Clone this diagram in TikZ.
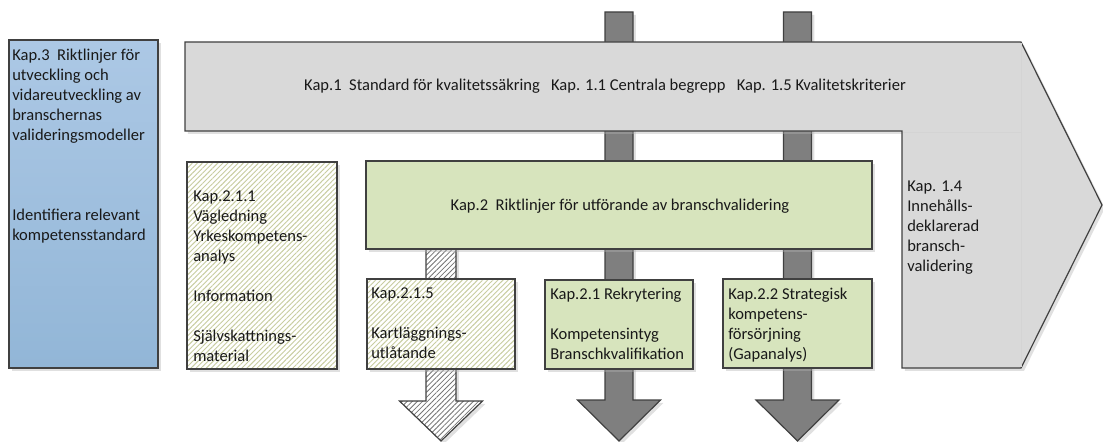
\documentclass[tikz,border=0pt]{standalone}
\usepackage{fontspec}
\setmainfont{Carlito}
\usetikzlibrary{shadows, patterns.meta}
\definecolor{rimgray}{RGB}{64,64,64}
\definecolor{arrowgray}{RGB}{217,217,217}
\definecolor{darkarrow}{RGB}{127,127,127}
\definecolor{kapgreen}{RGB}{215,228,189}
\definecolor{hatchgreen}{RGB}{200,205,160}
\definecolor{kapblueA}{RGB}{172,200,229}
\definecolor{kapblueB}{RGB}{146,182,215}
\tikzset{
  rim/.style={draw=rimgray, line width=.9pt},
  boxshadow/.style={drop shadow={shadow xshift=2.2pt, shadow yshift=-2.2pt, fill=black!30, opacity=.4}},
  hatchbox/.style={rim, boxshadow, preaction={fill=white}, pattern={Lines[angle=45, distance=2.7pt, line width=.7pt]}, pattern color=hatchgreen},
  hatcharrow/.style={rim, boxshadow, preaction={fill=white}, pattern={Lines[angle=45, distance=2.7pt, line width=.6pt]}, pattern color=black!55},
  kaptext/.style={inner sep=0pt, align=left, text=black!90, font=\fontsize{12.4}{15}\selectfont},
}

\begin{document}
\begin{tikzpicture}[x=.75pt, y=-.75pt]
  \useasboundingbox (0,0) rectangle (1103,442);
  % \draw[gray!30, step=50] (0,0) grid (1103,442);

  % dark arrows running through everything
  \foreach \cx in {619, 797.5} {
    \filldraw[rim, fill=darkarrow, boxshadow] (\cx-14,12) -- (\cx+14,12) -- (\cx+14,400) -- (\cx+41.5,400) -- (\cx,441) -- (\cx-41.5,400) -- (\cx-14,400) -- cycle;
  }

  % Kap.1 big arrow
  \filldraw[rim, fill=arrowgray, boxshadow] (185,42) -- (1021,42) -- (1102,205) -- (1021,368) -- (902,368) -- (902,131) -- (185,131) -- cycle;
  \draw[black!17] (1021,43) -- (1021,367) (903,132) -- (1021,132);

  % hatched arrow under Kap.2.1.5
  \filldraw[hatcharrow] (426,240) -- (456,240) -- (456,401) -- (482.5,401) -- (441,441) -- (399.5,401) -- (426,401) -- cycle;

  % boxes
  \filldraw[rim, top color=kapblueA, bottom color=kapblueB, boxshadow] (9,40) rectangle (158,368);
  \filldraw[hatchbox] (187,162) rectangle (337,369);
  \filldraw[rim, fill=kapgreen, boxshadow] (366,161) rectangle (872,249);
  \filldraw[hatchbox] (367,279) rectangle (515,369);
  \filldraw[rim, fill=kapgreen, boxshadow] (545,280) rectangle (693,369);
  \filldraw[rim, fill=kapgreen, boxshadow] (723,279) rectangle (872,368);

  % texts
  \node[kaptext, anchor=north west] (kap3) at (12,49) {Kap.3\ \ Riktlinjer för\\utveckling och\\vidareutveckling av\\branschernas\\valideringsmodeller\\[45pt]Identifiera relevant\\kompetensstandard};
  \node[kaptext] (kap1) at (605,86) {Kap.1\ \ Standard för kvalitetssäkring\ \ \ Kap. 1.1 Centrala begrepp\ \ \ Kap. 1.5 Kvalitetskriterier};
  \node[kaptext] (kap2) at (620,206) {Kap.2\ \ Riktlinjer för utförande av branschvalidering};
  \node[kaptext, anchor=north west] (kap211) at (193,191) {Kap.2.1.1\\Vägledning\\Yrkeskompetens-\\analys\\[15pt]Information\\[15pt]Självskattnings-\\material};
  \node[kaptext, anchor=north west] (kap215) at (371,288) {Kap.2.1.5\\[15pt]Kartläggnings-\\utlåtande};
  \node[kaptext, anchor=north west] (kap21) at (550,288) {Kap.2.1 Rekrytering\\[15pt]Kompetensintyg\\Branschkvalifikation};
  \node[kaptext, anchor=north west] (kap22) at (728,288) {Kap.2.2 Strategisk\\kompetens-\\försörjning\\(Gapanalys)};
  \node[kaptext, anchor=north west] (kap14) at (907,181) {Kap. 1.4\\Innehålls-\\deklarerad\\bransch-\\validering};
\end{tikzpicture}
\end{document}
